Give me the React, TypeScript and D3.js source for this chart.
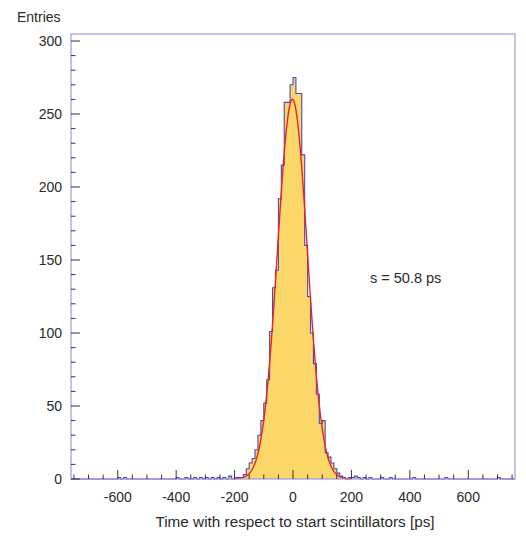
import React from 'react';
import * as d3 from 'd3';

// ---- data ----
const xMin = -760;
const xMax = 760;
const binWidth = 10;
const counts = [
  0, 0, 0, 0, 0, 0, 0, 0, 0, 0,
  0, 0, 0, 0, 0, 0, 1, 0, 1, 0,
  0, 0, 0, 0, 0, 0, 0, 0, 0, 0,
  0, 0, 0, 0, 0, 0, 1, 0, 0, 1,
  0, 0, 1, 0, 1, 0, 1, 0, 1, 0,
  1, 0, 1, 0, 2, 0, 1, 1, 1, 3,
  7, 11, 14, 20, 30, 40, 52, 68, 101, 131,
  143, 192, 215, 258, 258, 270, 275, 264, 264, 222,
  160, 125, 100, 79, 58, 38, 40, 18, 15, 11,
  7, 4, 2, 1, 0, 1, 1, 2, 1, 0,
  1, 0, 1, 0, 0, 0, 1, 0, 0, 1,
  0, 0, 0, 0, 0, 0, 0, 1, 0, 0,
  0, 0, 0, 0, 0, 0, 0, 0, 1, 0,
  0, 0, 0, 0, 0, 0, 0, 0, 0, 0,
  0, 0, 0, 0, 0, 0, 1, 0, 0, 0,
  0, 0,
];
const yMin = 0;
const yMax = 304.8;
const yMajorTicks = [0, 50, 100, 150, 200, 250, 300];
const yMinorStep = 10;
const xMajorTicks = [-600, -400, -200, 0, 200, 400, 600];
const xMinorStep = 50;
const fitAmp = 260;
const fitMean = -2;
const fitSigma = 50.8;
const fitFrom = -200;
const fitTo = 200;
const yTitle = 'Entries';
const xTitle = 'Time with respect to start scintillators [ps]';
const annotation = 's = 50.8 ps';

// ---- layout ----
const W = 526;
const H = 542;
const left = 71;
const right = 515;
const top = 34;
const bottom = 479;
const font = '"Liberation Sans", Arial, Helvetica, sans-serif';
const textColor = '#2a2a2a';
const frameColor = '#9d98dc';
const histLine = '#4c48b8';
const histFill = '#fbd668';
const fitColor = '#e0262a';

export default function App() {
  const x = d3.scaleLinear().domain([xMin, xMax]).range([left, right]);
  const y = d3.scaleLinear().domain([yMin, yMax]).range([bottom, top]);

  const pts: [number, number][] = [[xMin, 0]];
  counts.forEach((c, i) => {
    const lo = xMin + i * binWidth;
    pts.push([lo, c], [lo + binWidth, c]);
  });
  pts.push([xMax, 0]);

  const line = d3.line<[number, number]>().x((d) => x(d[0])).y((d) => y(d[1]));
  const area = d3
    .area<[number, number]>()
    .x((d) => x(d[0]))
    .y0(y(0))
    .y1((d) => y(d[1]));

  const fitPts: [number, number][] = d3
    .range(fitFrom, fitTo + 0.001, 2)
    .map((t) => [t, fitAmp * Math.exp(-0.5 * ((t - fitMean) / fitSigma) ** 2)]);

  const yMinor = d3.range(yMin, yMax, yMinorStep).filter((v) => v % 50 !== 0);
  const xMinor = d3
    .range(Math.ceil(xMin / xMinorStep) * xMinorStep, xMax + 0.001, xMinorStep)
    .filter((v) => !xMajorTicks.includes(v));

  return (
    <svg
      width={W}
      height={H}
      style={{ position: 'absolute', left: 0, top: 0, background: '#fff' }}
      fontFamily={font}
    >
      <rect x={0} y={0} width={W} height={H} fill="#fff" />
      <path d={area(pts) || ''} fill={histFill} stroke="none" />
      <path d={line(pts) || ''} fill="none" stroke={histLine} strokeWidth={1.1} />
      <path d={line(fitPts) || ''} fill="none" stroke={fitColor} strokeWidth={1.4} />

      {/* frame */}
      <rect
        x={left}
        y={top}
        width={right - left}
        height={bottom - top}
        fill="none"
        stroke={frameColor}
        strokeWidth={1.2}
      />

      {/* y ticks */}
      {yMajorTicks.map((v) => (
        <g key={'ym' + v}>
          <line x1={left} x2={left + 9} y1={y(v)} y2={y(v)} stroke="#333" strokeWidth={1} />
          <text
            x={62}
            y={y(v)}
            dy="0.35em"
            textAnchor="end"
            fontSize={14}
            fill={textColor}
          >
            {v}
          </text>
        </g>
      ))}
      {yMinor.map((v) => (
        <line key={'yn' + v} x1={left} x2={left + 4.5} y1={y(v)} y2={y(v)} stroke="#333" strokeWidth={1} />
      ))}

      {/* x ticks */}
      {xMajorTicks.map((v) => (
        <g key={'xm' + v}>
          <line x1={x(v)} x2={x(v)} y1={bottom} y2={bottom - 9} stroke="#333" strokeWidth={1} />
          <text x={x(v)} y={502} textAnchor="middle" fontSize={14} fill={textColor}>
            {v}
          </text>
        </g>
      ))}
      {xMinor.map((v) => (
        <line key={'xn' + v} x1={x(v)} x2={x(v)} y1={bottom} y2={bottom - 4.5} stroke="#333" strokeWidth={1} />
      ))}

      <text x={17} y={22} fontSize={14} fill={textColor}>
        {yTitle}
      </text>
      <text x={295} y={527} textAnchor="middle" fontSize={15.3} fill={textColor}>
        {xTitle}
      </text>
      <text x={370} y={283} fontSize={14.5} fill={textColor}>
        {annotation}
      </text>
    </svg>
  );
}
